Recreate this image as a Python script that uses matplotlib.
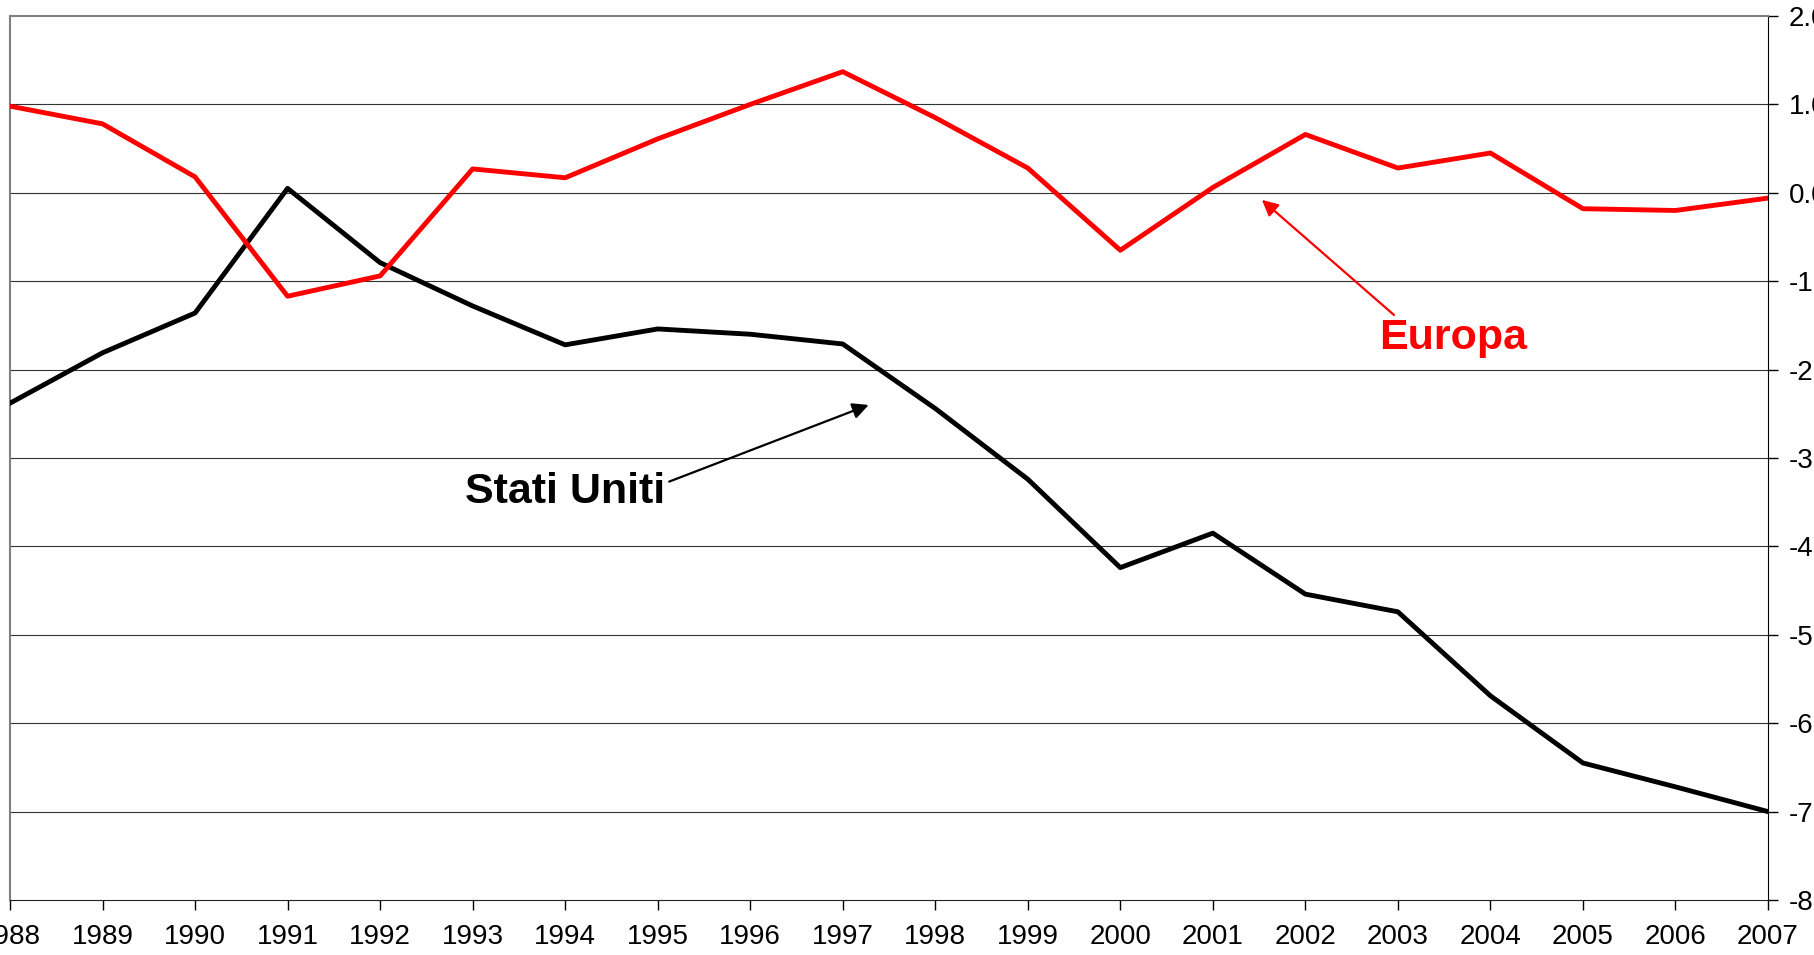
import matplotlib.pyplot as plt
import numpy as np

plt.rcParams['font.family'] = ['Liberation Sans', 'DejaVu Sans']

years = list(range(1988, 2008))
europa = [0.98, 0.78, 0.18, -1.17, -0.94, 0.27, 0.17, 0.61, 1.00, 1.37,
          0.85, 0.28, -0.65, 0.06, 0.66, 0.28, 0.45, -0.18, -0.20, -0.06]
stati_uniti = [-2.38, -1.81, -1.36, 0.05, -0.79, -1.28, -1.72, -1.54, -1.60, -1.71,
               -2.44, -3.24, -4.24, -3.85, -4.54, -4.74, -5.69, -6.45, -6.72, -7.00]
y_ticks = [2, 1, 0, -1, -2, -3, -4, -5, -6, -7, -8]

fig = plt.figure(figsize=(18.14, 9.55), dpi=100)
ax = fig.add_axes([10 / 1814, 1 - 900 / 955, (1768 - 10) / 1814, (900 - 16) / 955])

for t in y_ticks[1:-1]:
    ax.axhline(t, color='#333333', lw=0.8, zorder=1)

ax.plot(years, stati_uniti, color='black', lw=3.5, zorder=3)
ax.plot(years, europa, color='#ff0000', lw=3.5, zorder=4)

ax.set_xlim(1988, 2007)
ax.set_ylim(-8, 2)
ax.set_xticks(years)
ax.set_xticklabels([str(y) for y in years])
ax.set_yticks(y_ticks)
ax.set_yticklabels(['%.1f' % t for t in y_ticks])
ax.yaxis.tick_right()
ax.tick_params(axis='y', direction='out', length=7, width=1, labelsize=20, pad=8)
ax.tick_params(axis='x', direction='out', length=7, width=1, labelsize=20, pad=10)

ax.spines['left'].set_color('#808080')
ax.spines['top'].set_color('#808080')
ax.spines['left'].set_linewidth(1.5)
ax.spines['top'].set_linewidth(1.5)
ax.spines['right'].set_color('black')
ax.spines['bottom'].set_color('#222222')

ax.annotate('Europa', xy=(2001.53, -0.08), xytext=(2003.6, -1.64),
            color='#ff0000', fontsize=31, fontweight='bold', ha='center', va='center',
            arrowprops=dict(arrowstyle='-|>', color='#ff0000', lw=1.6,
                            mutation_scale=24, shrinkA=0, shrinkB=0,
                            relpos=(0.12, 1.0)))
ax.annotate('Stati Uniti', xy=(1997.28, -2.40), xytext=(1994.0, -3.38),
            color='black', fontsize=31, fontweight='bold', ha='center', va='center',
            arrowprops=dict(arrowstyle='-|>', color='black', lw=1.6,
                            mutation_scale=24, shrinkA=0, shrinkB=0,
                            relpos=(1.02, 0.75)))

fig.savefig('out.png', dpi=100)
